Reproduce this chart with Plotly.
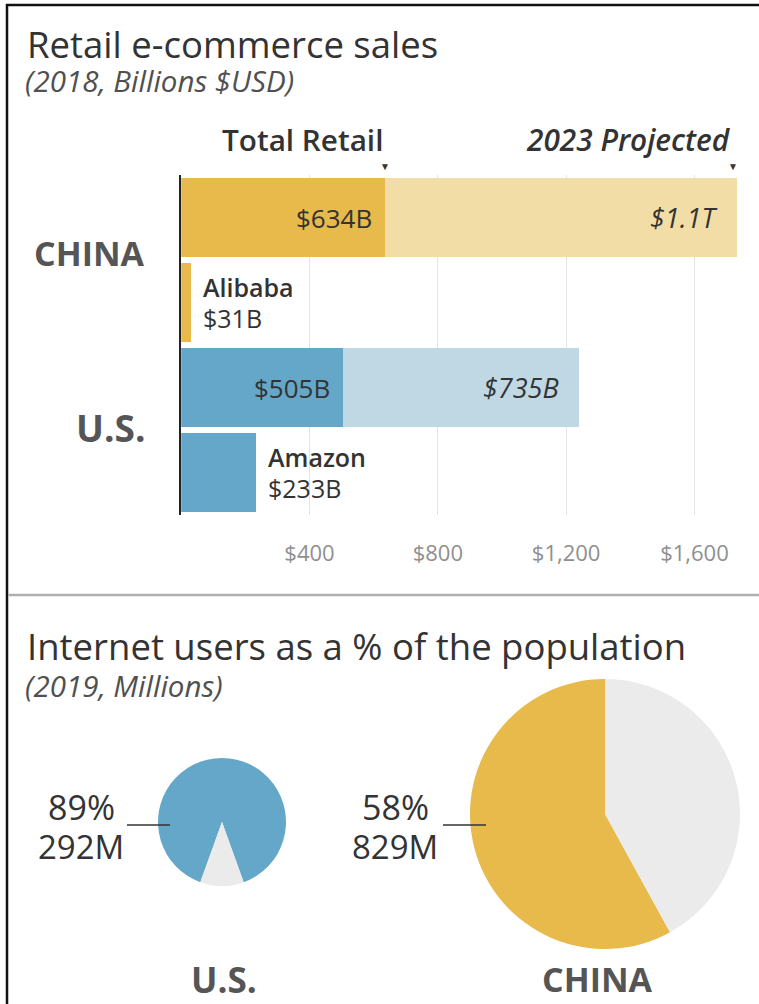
import plotly.graph_objects as go

W, H = 759, 1004

# ---------------- data ----------------
countries = ["CHINA", "U.S."]
total_retail_2018 = [634, 505]            # $B, 2018 total retail e-commerce
projected_2023 = [1100, 735]              # $B, shown as the light extension
total_labels = ["$634B", "$505B"]
projected_labels = ["$1.1T", "$735B"]
companies = ["Alibaba", "Amazon"]
company_sales = [31, 233]                 # $B
company_labels = ["$31B", "$233B"]
x_ticks = [400, 800, 1200, 1600]
x_tick_labels = ["$400", "$800", "$1,200", "$1,600"]

pie_countries = ["U.S.", "CHINA"]
internet_pct = [89, 58]                   # % of population online
internet_users_m = [292, 829]             # millions

# ---------------- style ----------------
FONT = "Open Sans"
dark = ["#E8B94B", "#64A7C8"]
light = ["#F3DDA6", "#BFD8E3"]
pie_gray = "#EBEBEB"
TXT = "#333333"
CAT = "#555555"


def px(x):
    return x / W


def py(y):
    return 1 - y / H


total_rows = [2 * i for i in range(len(countries))]
company_rows = [2 * i + 1 for i in range(len(companies))]

fig = go.Figure()

fig.add_trace(go.Bar(
    x=total_retail_2018, y=total_rows, orientation="h",
    marker=dict(color=dark, line=dict(width=0)), width=0.94,
    name="Total Retail", hoverinfo="skip", showlegend=False,
))
fig.add_trace(go.Bar(
    x=projected_2023, y=total_rows, base=total_retail_2018, orientation="h",
    marker=dict(color=light, line=dict(width=0)), width=0.94,
    name="2023 Projected", hoverinfo="skip", showlegend=False,
))
fig.add_trace(go.Bar(
    x=company_sales, y=company_rows, orientation="h",
    marker=dict(color=dark, line=dict(width=0)), width=0.94,
    name="Company", hoverinfo="skip", showlegend=False,
))

# pies (online share first; rotation places the offline share as in the original)
us_i, cn_i = 0, 1
us_off = 100 - internet_pct[us_i]
cn_off = 100 - internet_pct[cn_i]
fig.add_trace(go.Pie(
    values=[internet_pct[us_i], us_off],
    labels=["Online", "Offline"],
    marker=dict(colors=[dark[1], pie_gray], line=dict(width=0)),
    sort=False, direction="clockwise",
    rotation=180 + us_off * 3.6 / 2,
    textinfo="none", hoverinfo="skip", showlegend=False,
    domain=dict(x=[px(222 - 64), px(222 + 64)], y=[py(822 + 64), py(822 - 64)]),
))
fig.add_trace(go.Pie(
    values=[internet_pct[cn_i], cn_off],
    labels=["Online", "Offline"],
    marker=dict(colors=[dark[0], pie_gray], line=dict(width=0)),
    sort=False, direction="clockwise", rotation=cn_off * 3.6,
    textinfo="none", hoverinfo="skip", showlegend=False,
    domain=dict(x=[px(605 - 135), px(605 + 135)], y=[py(814 + 135), py(814 - 135)]),
))

ann = []


def text(x, y, s, size, color=TXT, xanchor="left", weight="normal", style="normal",
         xref="paper", yref="paper", xshift=0, yshift=0):
    ann.append(dict(x=x, y=y, xref=xref, yref=yref, text=s, showarrow=False,
                    xanchor=xanchor, yanchor="middle", xshift=xshift, yshift=yshift,
                    font=dict(family=FONT, size=size, color=color, weight=weight, style=style)))


# titles
text(px(25), py(44), "Retail e-commerce sales", 36.5, color="#333")
text(px(23), py(80), "(2018, Billions $USD)", 29.5, color="#505050", style="italic")
text(px(25), py(646), "Internet users as a % of the population", 36.5, color="#333")
text(px(23), py(685), "(2019, Millions)", 29.5, color="#505050", style="italic")

# bar headers + markers
text(total_retail_2018[0], py(139), "Total Retail", 29.7, xanchor="right",
     weight=600, xref="x")
text(total_retail_2018[0] + projected_2023[0], py(139), "2023 Projected", 29.8,
     xanchor="right", weight=600, style="italic", xref="x", xshift=-4)
text(total_retail_2018[0], py(166), "▼", 10, xanchor="center", xref="x")
text(total_retail_2018[0] + projected_2023[0], py(166), "▼", 10, xanchor="center",
     xref="x", xshift=-4)

# bar value labels
for i, r in enumerate(total_rows):
    text(total_retail_2018[i], r, total_labels[i], 26, xanchor="right", xref="x",
         yref="y", xshift=-11)
    text(total_retail_2018[i] + projected_2023[i], r, projected_labels[i], 27,
         xanchor="right", style="italic", xref="x", yref="y", xshift=-18)
    text(px(147), r + 0.5, countries[i], 34 if i == 0 else 37, color=CAT,
         xanchor="right", weight="bold", yref="y", yshift=7 if i == 0 else 3)
for i, r in enumerate(company_rows):
    text(company_sales[i], r, companies[i], 25, xanchor="left", weight=600,
         xref="x", yref="y", xshift=10, yshift=16)
    text(company_sales[i], r, company_labels[i], 25, xanchor="left",
         xref="x", yref="y", xshift=10, yshift=-15)

# pie labels
pie_label_x = [81, 395]
pie_bottom_x = [224, 597]
for i in range(len(pie_countries)):
    text(px(pie_label_x[i]), py(807), f"{internet_pct[i]}%", 34, xanchor="center")
    text(px(pie_label_x[i]), py(846), f"{internet_users_m[i]}M", 33, xanchor="center")
    text(px(pie_bottom_x[i]), py(979), pie_countries[i], 35 if i == 0 else 34,
         color=CAT, xanchor="center", weight="bold")

shapes = [
    # frame
    dict(type="line", xref="paper", yref="paper", x0=px(7), x1=px(7), y0=py(4), y1=0,
         line=dict(color="#111", width=2.5)),
    dict(type="line", xref="paper", yref="paper", x0=px(6), x1=1, y0=py(5), y1=py(5),
         line=dict(color="#111", width=2.5)),
    # divider
    dict(type="line", xref="paper", yref="paper", x0=px(8), x1=1, y0=py(595), y1=py(595),
         line=dict(color="#AFAFAF", width=2.5)),
    # pie leader lines
    dict(type="line", xref="paper", yref="paper", x0=px(127), x1=px(170), y0=py(825),
         y1=py(825), line=dict(color="#333", width=1.5)),
    dict(type="line", xref="paper", yref="paper", x0=px(443), x1=px(486), y0=py(825),
         y1=py(825), line=dict(color="#333", width=1.5)),
]

fig.update_layout(
    width=W, height=H, margin=dict(l=0, r=0, t=0, b=0),
    paper_bgcolor="white", plot_bgcolor="white",
    barmode="overlay", bargap=0,
    annotations=ann, shapes=shapes,
    font=dict(family=FONT),
    xaxis=dict(
        domain=[px(181.2), px(757)], range=[0, 1795],
        tickvals=x_ticks, ticktext=x_tick_labels,
        tickfont=dict(family=FONT, size=22, color="#8F8F8F"),
        ticks="outside", ticklen=19, tickcolor="rgba(0,0,0,0)",
        showgrid=True, gridcolor="#E4E4E4", gridwidth=1,
        zeroline=False, showline=False, fixedrange=True,
    ),
    yaxis=dict(
        domain=[py(515), py(175)], range=[3.5, -0.5],
        showticklabels=False, showgrid=False, zeroline=False,
        showline=True, linecolor="#222", linewidth=2, ticks="", fixedrange=True,
    ),
)

fig.write_html(
    "out.html",
    config=dict(displayModeBar=False, staticPlot=True),
    post_script="document.body.style.margin='0';document.body.style.overflow='hidden';",
)
